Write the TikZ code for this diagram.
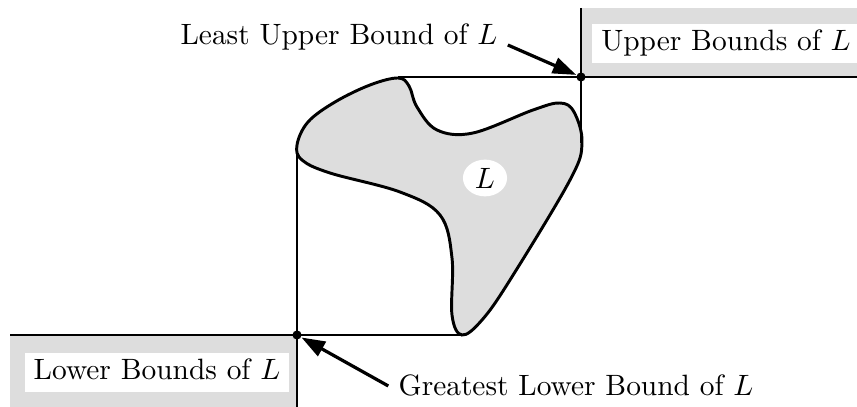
\documentclass[tikz,border=0pt]{standalone}
\usepackage{tikz}
\usetikzlibrary{shapes.geometric, arrows.meta, positioning}

\begin{document}
\begin{tikzpicture}[
    x=0.34pt, y=-0.34pt,
    >={Triangle[length=8pt,width=5.5pt]},
    shade/.style={fill=gray!27},
    lbl/.style={fill=white, inner xsep=3pt, inner ysep=2.1pt, text height=6.94pt, text depth=1.94pt},
    dot/.style={circle, fill=black, inner sep=1.1pt},
    pointer/.style={->, line width=1.1pt}
]
\useasboundingbox (0,0) rectangle (857,407);

% Bound regions
\fill[shade] (581,8) rectangle (857,77);
\fill[shade] (10,335) rectangle (297,407);
\node[lbl] (ub) at (726,43.5) {Upper Bounds of $L$};
\node[lbl] (lb) at (157,372.5) {Lower Bounds of $L$};

% The set L
\draw[line width=1pt, shade] plot[smooth cycle, tension=0.6] coordinates {
    (297,145) (308,122) (335,102) (370,85) (398,78) (409,86) (417,107)
    (437,130) (473,133) (533,110) (560,103) (574,112) (582,143) (570,180)
    (510,280) (482,320) (462,335) (452,315) (452,258) (440,215) (400,192)
    (330,173) (302,160)};
\node[ellipse, fill=white, inner sep=1pt, minimum width=15pt, minimum height=10pt] (set) at (485,178) {$L$};

% Bounds
\node[dot] (lub) at (581,77) {};
\node[dot] (glb) at (297,335) {};
\coordinate (lubW) at (398,77);
\coordinate (lubE) at (857,77);
\coordinate (lubN) at (581,8);
\coordinate (lubS) at (581,143);
\coordinate (glbW) at (10,335);
\coordinate (glbE) at (462,335);
\coordinate (glbN) at (297,145);
\coordinate (glbS) at (297,407);
\draw (lubW) -- (lubE);
\draw (lubN) -- (lubS);
\draw (glbW) -- (glbE);
\draw (glbN) -- (glbS);

% Labels
\node[anchor=base] (lubtxt) at (339,45) {Least Upper Bound of $L$};
\node[anchor=base] (glbtxt) at (576,396) {Greatest Lower Bound of $L$};
\draw[pointer] (lubtxt.base east) -- (lub);
\draw[pointer] (glbtxt.west) -- (glb);

\end{tikzpicture}
\end{document}
